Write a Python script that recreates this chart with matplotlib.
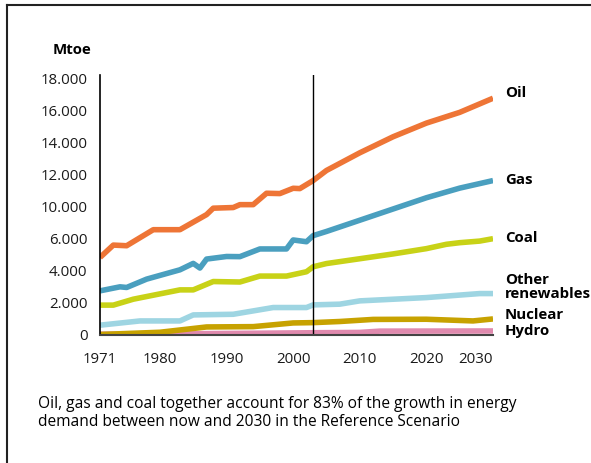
import matplotlib
matplotlib.use("Agg")
import matplotlib.pyplot as plt
from matplotlib.lines import Line2D

plt.rcParams["font.family"] = ["Open Sans", "DejaVu Sans"]

# Dados (Mtoe, na escala desenhada do eixo)
oil_years = [1971, 1973, 1975, 1979, 1983, 1987, 1988, 1991, 1992, 1994, 1996,
             1998, 2000, 2001, 2003, 2005, 2010, 2015, 2020, 2025, 2030]
oil = [4830, 5600, 5560, 6560, 6560, 7500, 7900, 7940, 8120, 8120, 8830,
       8810, 9140, 9120, 9620, 10250, 11350, 12350, 13200, 13870, 14750]

gas_years = [1971, 1974, 1975, 1978, 1983, 1985, 1986, 1987, 1990, 1992, 1995,
             1999, 2000, 2002, 2003, 2005, 2010, 2015, 2020, 2025, 2030]
gas = [2750, 3000, 2960, 3480, 4060, 4460, 4170, 4730, 4890, 4880, 5360,
       5360, 5920, 5810, 6190, 6450, 7150, 7850, 8550, 9150, 9620]

coal_years = [1971, 1973, 1976, 1983, 1985, 1988, 1992, 1995, 1999, 2002, 2003,
              2005, 2010, 2015, 2020, 2023, 2025, 2028, 2030]
coal = [1860, 1860, 2230, 2810, 2810, 3330, 3300, 3670, 3670, 3940, 4250,
        4450, 4750, 5050, 5380, 5650, 5750, 5850, 6000]

ren_years = [1971, 1977, 1983, 1985, 1991, 1997, 2002, 2003, 2007, 2010, 2020,
             2028, 2030]
ren = [610, 875, 875, 1250, 1290, 1710, 1710, 1875, 1920, 2125, 2330, 2580, 2580]

nuc_years = [1971, 1980, 1987, 1994, 2000, 2003, 2007, 2012, 2020, 2027, 2030]
nuc = [30, 170, 500, 520, 750, 770, 840, 970, 980, 875, 1000]

hydro_years = [1971, 1985, 1995, 2003, 2010, 2013, 2030]
hydro = [50, 80, 110, 140, 160, 240, 250]

base_year = 2003
x_ticks = [1971, 1980, 1990, 2000, 2010, 2020, 2030]
y_ticks = [0, 2000, 4000, 6000, 8000, 10000, 12000, 14000, 16000]
y_labels = ["0", "2.000", "4.000", "6.000", "10.000", "12.000", "14.000",
            "16.000", "18.000"]

caption = ("Oil, gas and coal together account for 83% of the growth in energy\n"
           "demand between now and 2030 in the Reference Scenario")

fig = plt.figure(figsize=(5.91, 4.63), dpi=100)
ax = fig.add_axes([0.1692, 0.2765, 0.665, 0.5616])

lw = 4
ax.plot(hydro_years, hydro, color="#E08AAE", lw=lw, solid_capstyle="butt")
ax.plot(nuc_years, nuc, color="#C7A200", lw=lw, solid_capstyle="butt")
ax.plot(ren_years, ren, color="#9ED5E2", lw=lw, solid_capstyle="butt")
ax.plot(coal_years, coal, color="#C8D217", lw=lw, solid_capstyle="butt")
ax.plot(gas_years, gas, color="#4A9FBF", lw=lw, solid_capstyle="butt")
ax.plot(oil_years, oil, color="#EE7536", lw=lw, solid_capstyle="butt")

# Linha vertical do ano base
ax.axvline(base_year, color="black", lw=1)

ax.set_xlim(1971, 2030)
ax.set_ylim(0, 16200)
ax.set_xticks(x_ticks)
ax.set_yticks(y_ticks)
ax.set_yticklabels(y_labels)
ax.tick_params(length=0, labelsize=10.8, colors="#1a1a1a")
ax.tick_params(axis="x", pad=12)
ax.tick_params(axis="y", pad=9)
# o rótulo 2030 fica um pouco à esquerda no original
ax.get_xticklabels()[-1].set_horizontalalignment("right")
ax.get_xticklabels()[-1].set_x(2031.5)
for s in ["top", "right"]:
    ax.spines[s].set_visible(False)
ax.spines["left"].set_linewidth(1.2)
ax.spines["bottom"].set_linewidth(1.5)
ax.spines["bottom"].set_color("#444444")

fig.text(91 / 591, 1 - 50 / 463, "Mtoe", ha="right", va="center",
         fontsize=10.8, fontweight="bold")

# Rótulos das séries à direita
labels = [("Oil", 93), ("Gas", 180), ("Coal", 238),
          ("Other\nrenewables", 287), ("Nuclear", 315), ("Hydro", 331)]
for txt, ypix in labels:
    fig.text(505 / 591, 1 - ypix / 463, txt, ha="left", va="center",
             fontsize=10.8, fontweight="bold", linespacing=0.95)

fig.text(38 / 591, 1 - 413 / 463, caption, ha="left", va="center",
         fontsize=11.2, linespacing=1.2)

# Moldura
fig.add_artist(Line2D([7 / 591, 1], [1 - 5 / 463, 1 - 5 / 463],
                      color="#222222", lw=1.5))
fig.add_artist(Line2D([7 / 591, 7 / 591], [0, 1 - 5 / 463],
                      color="#222222", lw=1.5))

plt.savefig("out.png", dpi=100)
